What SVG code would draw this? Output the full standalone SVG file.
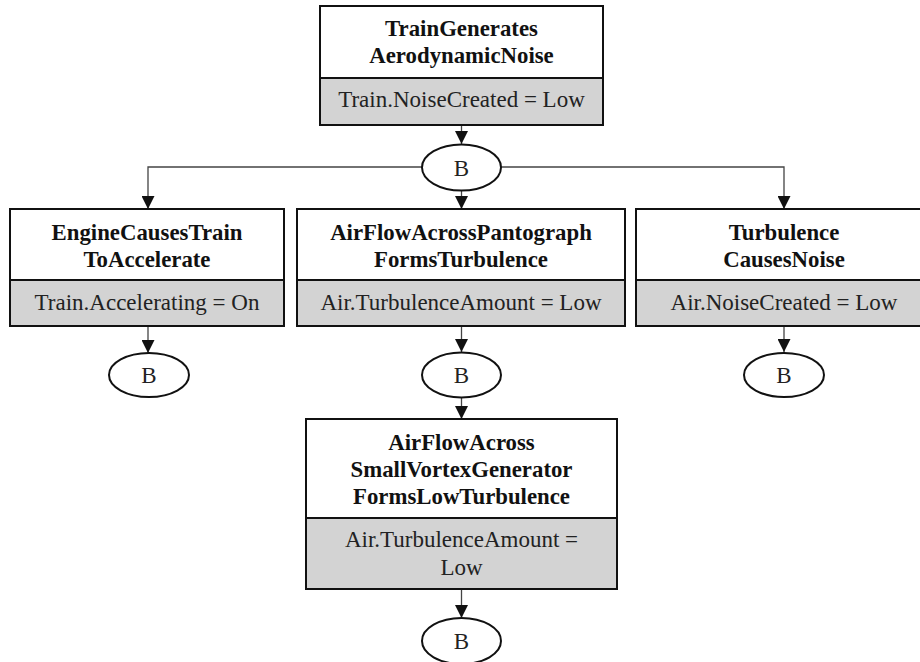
<svg xmlns="http://www.w3.org/2000/svg" width="920" height="662" viewBox="0 0 920 662">
<style>
.box{fill:#fff;stroke:#111;stroke-width:2}
.attr{fill:#d3d3d3;stroke:#111;stroke-width:2}
.title{font-family:"Liberation Serif","Times New Roman",serif;font-size:22.8px;font-weight:bold;fill:#111;text-anchor:middle}
.val{font-family:"Liberation Serif","Times New Roman",serif;font-size:23px;fill:#222;text-anchor:middle}
.ell{fill:#fff;stroke:#111;stroke-width:2}
.conn{fill:none;stroke:#444;stroke-width:1.3}
</style>
<defs>
<marker id="arr" markerUnits="userSpaceOnUse" markerWidth="13" markerHeight="13" viewBox="0 0 13 13" refX="13" refY="6.5" orient="auto">
<path d="M0,0 L13,6.5 L0,13 Z" fill="#111"/>
</marker>
</defs>
<rect width="920" height="662" fill="#fff"/>
<g id="connectors">
<path class="conn" d="M461.5,125 V144" marker-end="url(#arr)"/>
<path class="conn" d="M422,167 H148 V209" marker-end="url(#arr)"/>
<path class="conn" d="M501,167 H784 V209" marker-end="url(#arr)"/>
<path class="conn" d="M461.5,191 V209" marker-end="url(#arr)"/>
<path class="conn" d="M148,326 V353" marker-end="url(#arr)"/>
<path class="conn" d="M461.5,326 V352" marker-end="url(#arr)"/>
<path class="conn" d="M784,326 V352" marker-end="url(#arr)"/>
<path class="conn" d="M461.5,398 V419" marker-end="url(#arr)"/>
<path class="conn" d="M461.5,589 V618" marker-end="url(#arr)"/>
</g>
<g id="n-train">
<rect class="box" x="320" y="6" width="283" height="72"/>
<rect class="attr" x="320" y="78" width="283" height="47"/>
<text class="title" x="461.5" y="36">TrainGenerates</text>
<text class="title" x="461.5" y="63">AerodynamicNoise</text>
<text class="val" x="461.5" y="107">Train.NoiseCreated = Low</text>
</g>
<g id="b-top">
<ellipse class="ell" cx="461.5" cy="167.5" rx="39.5" ry="23"/>
<text class="val" x="461.5" y="175.5">B</text>
</g>
<g id="n-engine">
<rect class="box" x="10" y="209" width="274" height="71"/>
<rect class="attr" x="10" y="280" width="274" height="46"/>
<text class="title" x="147" y="240">EngineCausesTrain</text>
<text class="title" x="147" y="267">ToAccelerate</text>
<text class="val" x="147" y="310">Train.Accelerating = On</text>
</g>
<g id="n-pantograph">
<rect class="box" x="297" y="209" width="328" height="71"/>
<rect class="attr" x="297" y="280" width="328" height="46"/>
<text class="title" x="461" y="240">AirFlowAcrossPantograph</text>
<text class="title" x="461" y="267">FormsTurbulence</text>
<text class="val" x="461" y="310">Air.TurbulenceAmount = Low</text>
</g>
<g id="n-noise">
<rect class="box" x="636" y="209" width="296" height="71"/>
<rect class="attr" x="636" y="280" width="296" height="46"/>
<text class="title" x="784" y="240">Turbulence</text>
<text class="title" x="784" y="267">CausesNoise</text>
<text class="val" x="784" y="310">Air.NoiseCreated = Low</text>
</g>
<g id="b-left">
<ellipse class="ell" cx="149" cy="375" rx="40" ry="22"/>
<text class="val" x="149" y="383">B</text>
</g>
<g id="b-mid">
<ellipse class="ell" cx="461.5" cy="375" rx="39.5" ry="22.5"/>
<text class="val" x="461.5" y="383">B</text>
</g>
<g id="b-right">
<ellipse class="ell" cx="784" cy="375" rx="40" ry="22"/>
<text class="val" x="784" y="383">B</text>
</g>
<g id="n-vortex">
<rect class="box" x="306" y="419" width="311" height="99"/>
<rect class="attr" x="306" y="518" width="311" height="71"/>
<text class="title" x="461.5" y="450">AirFlowAcross</text>
<text class="title" x="461.5" y="477">SmallVortexGenerator</text>
<text class="title" x="461.5" y="504">FormsLowTurbulence</text>
<text class="val" x="461.5" y="547">Air.TurbulenceAmount =</text>
<text class="val" x="461.5" y="575">Low</text>
</g>
<g id="b-bottom">
<ellipse class="ell" cx="461.5" cy="641" rx="39.5" ry="23"/>
<text class="val" x="461.5" y="649">B</text>
</g>
</svg>
